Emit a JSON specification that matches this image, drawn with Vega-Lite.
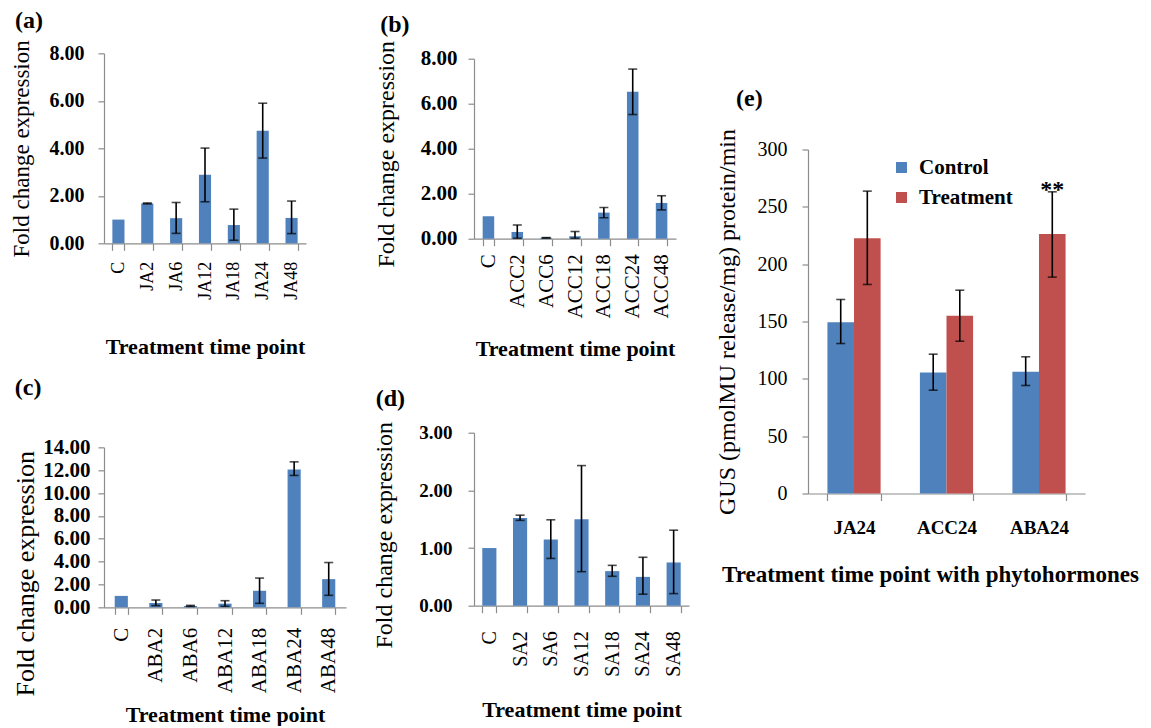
{
  "$schema": "https://vega.github.io/schema/vega-lite/v6.json",
  "background": "white",
  "padding": {"left": 10, "top": 8, "right": 0, "bottom": 0},
  "config": {
    "view": {"stroke": null},
    "font": "Liberation Serif",
    "axis": {"domainColor": "#8c8c8c", "tickColor": "#8c8c8c", "grid": false, "labelFont": "Liberation Serif", "titleFont": "Liberation Serif", "labelColor": "black", "titleColor": "black", "domainWidth": 1.2, "tickWidth": 1.2, "labelOverlap": false},
    "title": {"font": "Liberation Serif", "fontSize": 24, "fontWeight": "bold", "anchor": "start", "frame": "bounds", "color": "black", "offset": 6},
    "tick": {"thickness": 1.6},
    "rule": {"strokeWidth": 1.6}
  },
  "datasets": {
    "ja": [
      {"t": "C", "v": 1.0, "lo": null, "hi": null},
      {"t": "JA2", "v": 1.68, "lo": 1.66, "hi": 1.70},
      {"t": "JA6", "v": 1.06, "lo": 0.42, "hi": 1.72},
      {"t": "JA12", "v": 2.89, "lo": 1.75, "hi": 4.01},
      {"t": "JA18", "v": 0.77, "lo": 0.13, "hi": 1.44},
      {"t": "JA24", "v": 4.74, "lo": 3.59, "hi": 5.90},
      {"t": "JA48", "v": 1.07, "lo": 0.41, "hi": 1.78}
    ],
    "acc": [
      {"t": "C", "v": 1.0, "lo": null, "hi": null},
      {"t": "ACC2", "v": 0.30, "lo": 0.02, "hi": 0.61},
      {"t": "ACC6", "v": 0.04, "lo": 0.03, "hi": 0.05},
      {"t": "ACC12", "v": 0.11, "lo": 0.02, "hi": 0.32},
      {"t": "ACC18", "v": 1.16, "lo": 0.93, "hi": 1.39},
      {"t": "ACC24", "v": 6.53, "lo": 5.52, "hi": 7.54},
      {"t": "ACC48", "v": 1.59, "lo": 1.28, "hi": 1.91}
    ],
    "aba": [
      {"t": "C", "v": 1.0, "lo": null, "hi": null},
      {"t": "ABA2", "v": 0.38, "lo": 0.15, "hi": 0.64},
      {"t": "ABA6", "v": 0.12, "lo": 0.08, "hi": 0.17},
      {"t": "ABA12", "v": 0.32, "lo": 0.09, "hi": 0.58},
      {"t": "ABA18", "v": 1.45, "lo": 0.35, "hi": 2.56},
      {"t": "ABA24", "v": 12.06, "lo": 11.54, "hi": 12.73},
      {"t": "ABA48", "v": 2.47, "lo": 1.05, "hi": 3.92}
    ],
    "sa": [
      {"t": "C", "v": 1.0, "lo": null, "hi": null},
      {"t": "SA2", "v": 1.52, "lo": 1.48, "hi": 1.57},
      {"t": "SA6", "v": 1.15, "lo": 0.82, "hi": 1.49},
      {"t": "SA12", "v": 1.50, "lo": 0.59, "hi": 2.43},
      {"t": "SA18", "v": 0.60, "lo": 0.51, "hi": 0.70},
      {"t": "SA24", "v": 0.50, "lo": 0.20, "hi": 0.84},
      {"t": "SA48", "v": 0.75, "lo": 0.21, "hi": 1.31}
    ],
    "gus": [
      {"t": "JA24", "g": "Control", "v": 149.4, "lo": 130.8, "hi": 169.2, "sig": null},
      {"t": "JA24", "g": "Treatment", "v": 222.7, "lo": 182.3, "hi": 263.7, "sig": null},
      {"t": "ACC24", "g": "Control", "v": 105.5, "lo": 90.1, "hi": 121.5, "sig": null},
      {"t": "ACC24", "g": "Treatment", "v": 155.0, "lo": 132.8, "hi": 177.3, "sig": null},
      {"t": "ABA24", "g": "Control", "v": 106.1, "lo": 94.2, "hi": 119.2, "sig": null},
      {"t": "ABA24", "g": "Treatment", "v": 226.2, "lo": 188.7, "hi": 263.1, "sig": "**"}
    ]
  },
  "hconcat": [
    {
      "vconcat": [
        {
          "title": {"text": "(a)", "offset": 7, "dx": 5},
          "width": 202, "height": 190,
          "data": {"name": "ja"},
          "encoding": {"x": {"field": "t", "type": "nominal", "sort": null, "scale": {"paddingInner": 0.58, "paddingOuter": 0.29},
            "axis": {"title": "Treatment time point", "titleFontSize": 22, "titleFontWeight": "bold", "labelAngle": -90, "labelFontSize": 18, "labelFontWeight": "normal", "labelOverlap": false, "tickBand": "extent", "tickSize": 7, "labelPadding": 11, "titlePadding": 37}}},
          "layer": [
            {"mark": {"type": "bar", "color": "#4F81BD"}, "encoding": {"y": {"field": "v", "type": "quantitative", "scale": {"domain": [0, 8]}, "title": "Fold change expression",
              "axis": {"values": [0, 2, 4, 6, 8], "format": ".2f", "labelOverlap": false, "labelFontSize": 20, "labelFontWeight": "bold", "titleFontSize": 23, "titleFontWeight": "normal", "tickSize": 6, "labelPadding": 14, "titlePadding": 16}}}},
            {"transform": [{"filter": "datum.lo != null"}], "mark": {"type": "rule", "color": "black"}, "encoding": {"y": {"field": "lo", "type": "quantitative", "title": "Fold change expression",
              "axis": {"values": [0, 2, 4, 6, 8], "format": ".2f", "labelOverlap": false, "labelFontSize": 20, "labelFontWeight": "bold", "titleFontSize": 23, "titleFontWeight": "normal", "tickSize": 6, "labelPadding": 14, "titlePadding": 16}}, "y2": {"field": "hi"}}},
            {"transform": [{"filter": "datum.lo != null"}], "mark": {"type": "tick", "color": "black", "size": 9}, "encoding": {"y": {"field": "hi", "type": "quantitative", "title": "Fold change expression",
              "axis": {"values": [0, 2, 4, 6, 8], "format": ".2f", "labelOverlap": false, "labelFontSize": 20, "labelFontWeight": "bold", "titleFontSize": 23, "titleFontWeight": "normal", "tickSize": 6, "labelPadding": 14, "titlePadding": 16}}}},
            {"transform": [{"filter": "datum.lo != null"}], "mark": {"type": "tick", "color": "black", "size": 9}, "encoding": {"y": {"field": "lo", "type": "quantitative", "title": "Fold change expression",
              "axis": {"values": [0, 2, 4, 6, 8], "format": ".2f", "labelOverlap": false, "labelFontSize": 20, "labelFontWeight": "bold", "titleFontSize": 23, "titleFontWeight": "normal", "tickSize": 6, "labelPadding": 14, "titlePadding": 16}}}}
          ]
        },
        {
          "title": {"text": "(c)", "offset": 36, "dx": 2},
          "width": 242, "height": 160,
          "data": {"name": "aba"},
          "encoding": {"x": {"field": "t", "type": "nominal", "sort": null, "scale": {"paddingInner": 0.62, "paddingOuter": 0.31},
            "axis": {"title": "Treatment time point", "titleFontSize": 22, "titleFontWeight": "bold", "labelAngle": -90, "labelFontSize": 21, "labelFontWeight": "normal", "labelOverlap": false, "tickBand": "extent", "tickSize": 7, "labelPadding": 13, "titlePadding": 12}}},
          "layer": [
            {"mark": {"type": "bar", "color": "#4F81BD"}, "encoding": {"y": {"field": "v", "type": "quantitative", "scale": {"domain": [0, 14]}, "title": "Fold change expression",
              "axis": {"values": [0, 2, 4, 6, 8, 10, 12, 14], "format": ".2f", "labelOverlap": false, "labelFontSize": 21, "labelFontWeight": "bold", "titleFontSize": 26, "titleFontWeight": "normal", "titleY": 126, "tickSize": 6, "labelPadding": 8, "titlePadding": 4}}}},
            {"transform": [{"filter": "datum.lo != null"}], "mark": {"type": "rule", "color": "black"}, "encoding": {"y": {"field": "lo", "type": "quantitative", "title": "Fold change expression",
              "axis": {"values": [0, 2, 4, 6, 8, 10, 12, 14], "format": ".2f", "labelOverlap": false, "labelFontSize": 21, "labelFontWeight": "bold", "titleFontSize": 26, "titleFontWeight": "normal", "titleY": 126, "tickSize": 6, "labelPadding": 8, "titlePadding": 4}}, "y2": {"field": "hi"}}},
            {"transform": [{"filter": "datum.lo != null"}], "mark": {"type": "tick", "color": "black", "size": 9}, "encoding": {"y": {"field": "hi", "type": "quantitative", "title": "Fold change expression",
              "axis": {"values": [0, 2, 4, 6, 8, 10, 12, 14], "format": ".2f", "labelOverlap": false, "labelFontSize": 21, "labelFontWeight": "bold", "titleFontSize": 26, "titleFontWeight": "normal", "titleY": 126, "tickSize": 6, "labelPadding": 8, "titlePadding": 4}}}},
            {"transform": [{"filter": "datum.lo != null"}], "mark": {"type": "tick", "color": "black", "size": 9}, "encoding": {"y": {"field": "lo", "type": "quantitative", "title": "Fold change expression",
              "axis": {"values": [0, 2, 4, 6, 8, 10, 12, 14], "format": ".2f", "labelOverlap": false, "labelFontSize": 21, "labelFontWeight": "bold", "titleFontSize": 26, "titleFontWeight": "normal", "titleY": 126, "tickSize": 6, "labelPadding": 8, "titlePadding": 4}}}}
          ]
        }
      ],
      "spacing": 18
    },
    {
      "vconcat": [
        {
          "title": {"text": "(b)", "offset": 3, "dx": 6},
          "width": 202, "height": 180,
          "data": {"name": "acc"},
          "encoding": {"x": {"field": "t", "type": "nominal", "sort": null, "scale": {"paddingInner": 0.6, "paddingOuter": 0.3},
            "axis": {"title": "Treatment time point", "titleFontSize": 22, "titleFontWeight": "bold", "labelAngle": -90, "labelFontSize": 21, "labelFontWeight": "normal", "labelOverlap": false, "tickBand": "extent", "tickSize": 7, "labelPadding": 8, "titlePadding": 21}}},
          "layer": [
            {"mark": {"type": "bar", "color": "#4F81BD"}, "encoding": {"y": {"field": "v", "type": "quantitative", "scale": {"domain": [0, 8]}, "title": "Fold change expression",
              "axis": {"values": [0, 2, 4, 6, 8], "format": ".2f", "labelOverlap": false, "labelFontSize": 21, "labelFontWeight": "bold", "titleFontSize": 24, "titleFontWeight": "normal", "titleY": 95, "tickSize": 6, "labelPadding": 11, "titlePadding": 22}}}},
            {"transform": [{"filter": "datum.lo != null"}], "mark": {"type": "rule", "color": "black"}, "encoding": {"y": {"field": "lo", "type": "quantitative", "title": "Fold change expression",
              "axis": {"values": [0, 2, 4, 6, 8], "format": ".2f", "labelOverlap": false, "labelFontSize": 21, "labelFontWeight": "bold", "titleFontSize": 24, "titleFontWeight": "normal", "titleY": 95, "tickSize": 6, "labelPadding": 11, "titlePadding": 22}}, "y2": {"field": "hi"}}},
            {"transform": [{"filter": "datum.lo != null"}], "mark": {"type": "tick", "color": "black", "size": 9}, "encoding": {"y": {"field": "hi", "type": "quantitative", "title": "Fold change expression",
              "axis": {"values": [0, 2, 4, 6, 8], "format": ".2f", "labelOverlap": false, "labelFontSize": 21, "labelFontWeight": "bold", "titleFontSize": 24, "titleFontWeight": "normal", "titleY": 95, "tickSize": 6, "labelPadding": 11, "titlePadding": 22}}}},
            {"transform": [{"filter": "datum.lo != null"}], "mark": {"type": "tick", "color": "black", "size": 9}, "encoding": {"y": {"field": "lo", "type": "quantitative", "title": "Fold change expression",
              "axis": {"values": [0, 2, 4, 6, 8], "format": ".2f", "labelOverlap": false, "labelFontSize": 21, "labelFontWeight": "bold", "titleFontSize": 24, "titleFontWeight": "normal", "titleY": 95, "tickSize": 6, "labelPadding": 11, "titlePadding": 22}}}}
          ]
        },
        {
          "title": {"text": "(d)", "offset": 10, "dx": 3},
          "width": 215, "height": 173,
          "data": {"name": "sa"},
          "encoding": {"x": {"field": "t", "type": "nominal", "sort": null, "scale": {"paddingInner": 0.54, "paddingOuter": 0.27},
            "axis": {"title": "Treatment time point", "titleFontSize": 22, "titleFontWeight": "bold", "labelAngle": -90, "labelFontSize": 20, "labelFontWeight": "normal", "labelOverlap": false, "tickBand": "extent", "tickSize": 7, "labelPadding": 18, "titlePadding": 23}}},
          "layer": [
            {"mark": {"type": "bar", "color": "#4F81BD"}, "encoding": {"y": {"field": "v", "type": "quantitative", "scale": {"domain": [0, 3]}, "title": "Fold change expression",
              "axis": {"values": [0, 1, 2, 3], "format": ".2f", "labelOverlap": false, "labelFontSize": 19, "labelFontWeight": "bold", "titleFontSize": 24, "titleFontWeight": "normal", "titleY": 102, "tickSize": 6, "labelPadding": 16, "titlePadding": 22}}}},
            {"transform": [{"filter": "datum.lo != null"}], "mark": {"type": "rule", "color": "black"}, "encoding": {"y": {"field": "lo", "type": "quantitative", "title": "Fold change expression",
              "axis": {"values": [0, 1, 2, 3], "format": ".2f", "labelOverlap": false, "labelFontSize": 19, "labelFontWeight": "bold", "titleFontSize": 24, "titleFontWeight": "normal", "titleY": 102, "tickSize": 6, "labelPadding": 16, "titlePadding": 22}}, "y2": {"field": "hi"}}},
            {"transform": [{"filter": "datum.lo != null"}], "mark": {"type": "tick", "color": "black", "size": 9}, "encoding": {"y": {"field": "hi", "type": "quantitative", "title": "Fold change expression",
              "axis": {"values": [0, 1, 2, 3], "format": ".2f", "labelOverlap": false, "labelFontSize": 19, "labelFontWeight": "bold", "titleFontSize": 24, "titleFontWeight": "normal", "titleY": 102, "tickSize": 6, "labelPadding": 16, "titlePadding": 22}}}},
            {"transform": [{"filter": "datum.lo != null"}], "mark": {"type": "tick", "color": "black", "size": 9}, "encoding": {"y": {"field": "lo", "type": "quantitative", "title": "Fold change expression",
              "axis": {"values": [0, 1, 2, 3], "format": ".2f", "labelOverlap": false, "labelFontSize": 19, "labelFontWeight": "bold", "titleFontSize": 24, "titleFontWeight": "normal", "titleY": 102, "tickSize": 6, "labelPadding": 16, "titlePadding": 22}}}}
          ]
        }
      ],
      "spacing": 26
    },
    {
      "title": {"text": "(e)", "offset": 18, "dx": 21},
      "width": 277, "height": 344,
      "data": {"name": "gus"},
      "encoding": {
        "x": {"field": "t", "type": "nominal", "sort": null, "scale": {"paddingInner": 0.425, "paddingOuter": 0.21},
          "axis": {"title": ["Treatment time point with phytohormones", " "], "titleX": 122, "titleLineHeight": 43, "titleFontSize": 23, "titleFontWeight": "bold", "labelAngle": 0, "labelFontSize": 19, "labelFontWeight": "bold", "tickBand": "extent", "tickSize": 7, "labelPadding": 18, "titlePadding": 26}},
        "xOffset": {"field": "g", "type": "nominal", "sort": null, "scale": {"paddingInner": 0, "paddingOuter": 0}}
      },
      "layer": [
        {"mark": {"type": "bar"}, "encoding": {
          "y": {"field": "v", "type": "quantitative", "scale": {"domain": [0, 300]}, "title": "GUS (pmolMU release/mg) protein/min",
            "axis": {"values": [0, 50, 100, 150, 200, 250, 300], "labelOverlap": false, "labelFontSize": 20, "labelFontWeight": "normal", "titleFontSize": 24, "titleFontWeight": "normal", "tickSize": 6, "labelPadding": 15, "titlePadding": 18}},
          "color": {"field": "g", "type": "nominal", "sort": null, "scale": {"domain": ["Control", "Treatment"], "range": ["#4F81BD", "#C0504D"]},
            "legend": {"orient": "none", "legendX": 787, "legendY": 104, "title": null, "labelFont": "Liberation Serif", "labelFontSize": 21, "labelFontWeight": "bold", "labelColor": "black", "symbolType": "square", "symbolSize": 120, "symbolStrokeWidth": 0, "symbolOpacity": 1, "rowPadding": 8, "labelOffset": 7}}
        }},
        {"mark": {"type": "rule", "color": "black"}, "encoding": {"y": {"field": "lo", "type": "quantitative", "title": "GUS (pmolMU release/mg) protein/min",
          "axis": {"values": [0, 50, 100, 150, 200, 250, 300], "labelOverlap": false, "labelFontSize": 20, "labelFontWeight": "normal", "titleFontSize": 24, "titleFontWeight": "normal", "tickSize": 6, "labelPadding": 15, "titlePadding": 18}}, "y2": {"field": "hi"}}},
        {"mark": {"type": "tick", "color": "black", "size": 9}, "encoding": {"y": {"field": "hi", "type": "quantitative", "title": "GUS (pmolMU release/mg) protein/min",
          "axis": {"values": [0, 50, 100, 150, 200, 250, 300], "labelOverlap": false, "labelFontSize": 20, "labelFontWeight": "normal", "titleFontSize": 24, "titleFontWeight": "normal", "tickSize": 6, "labelPadding": 15, "titlePadding": 18}}}},
        {"mark": {"type": "tick", "color": "black", "size": 9}, "encoding": {"y": {"field": "lo", "type": "quantitative", "title": "GUS (pmolMU release/mg) protein/min",
          "axis": {"values": [0, 50, 100, 150, 200, 250, 300], "labelOverlap": false, "labelFontSize": 20, "labelFontWeight": "normal", "titleFontSize": 24, "titleFontWeight": "normal", "tickSize": 6, "labelPadding": 15, "titlePadding": 18}}}},
        {"transform": [{"filter": "datum.sig != null"}], "mark": {"type": "text", "font": "Liberation Serif", "fontSize": 24, "fontWeight": "bold", "baseline": "alphabetic", "dy": 5, "color": "black"},
          "encoding": {"y": {"field": "hi", "type": "quantitative", "title": "GUS (pmolMU release/mg) protein/min",
            "axis": {"values": [0, 50, 100, 150, 200, 250, 300], "labelOverlap": false, "labelFontSize": 20, "labelFontWeight": "normal", "titleFontSize": 24, "titleFontWeight": "normal", "tickSize": 6, "labelPadding": 15, "titlePadding": 18}}, "text": {"field": "sig"}}}
      ]
    }
  ],
  "spacing": 26,
  "center": true
}
